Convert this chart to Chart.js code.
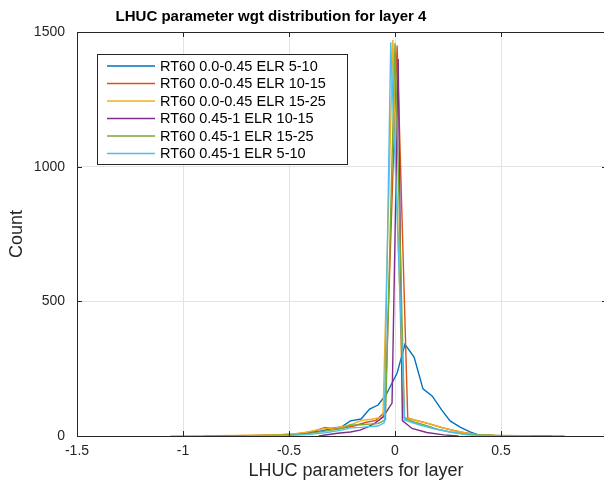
<!DOCTYPE html>
<html><head><meta charset="utf-8">
<script src="https://cdn.jsdelivr.net/npm/chart.js@4/dist/chart.umd.min.js"></script>
<style>
html,body{margin:0;padding:0;background:#fff;overflow:hidden;width:604px;height:480px}
#wrap{position:relative;width:610px;height:480px}
</style></head><body><div id="wrap"><canvas id="c" width="610" height="480"></canvas></div>
<script>
const titleText = 'LHUC parameter wgt distribution for layer 4';
const xLabel = 'LHUC parameters for layer';
const yLabel = 'Count';
const seriesNames = ['RT60 0.0-0.45 ELR 5-10','RT60 0.0-0.45 ELR 10-15','RT60 0.0-0.45 ELR 15-25','RT60 0.45-1 ELR 10-15','RT60 0.45-1 ELR 15-25','RT60 0.45-1 ELR 5-10'];
const seriesColors = ['#0072BD','#D95319','#EDB120','#7E2F8E','#77AC30','#4DBEEE'];
const xTicks = [-1.5,-1,-0.5,0,0.5,1];
const yTicks = [0,500,1000,1500];

const s1x = [-0.85,-0.75,-0.65,-0.55,-0.47,-0.42,-0.34,-0.30,-0.25,-0.21,-0.16,-0.12,-0.08,-0.04,0.01,0.047,0.09,0.132,0.175,0.22,0.26,0.307,0.354,0.39,0.45,0.52];
const s1y = [0,1,1,3,6,10,20,28,35,56,63,100,115,156,234,340,293,175,149,97,56,33,15,5,2,0];

const s2x = [-0.95,-0.85,-0.75,-0.65,-0.55,-0.47,-0.42,-0.375,-0.33,-0.29,-0.24,-0.19,-0.14,-0.09,-0.047,0.01,0.06,0.09,0.15,0.226,0.307,0.387,0.47,0.6,0.74];
const s2y = [0,1,1,2,4,8,12,20,32,27,30,38,50,58,89,1450,67,60,48,30,15,5,2,1,0];

const s3x = [-1.06,-0.95,-0.85,-0.75,-0.65,-0.55,-0.47,-0.42,-0.37,-0.33,-0.28,-0.24,-0.2,-0.156,-0.11,-0.08,-0.057,-0.01,0.038,0.08,0.15,0.226,0.307,0.387,0.47,0.55,0.62];
const s3y = [0,1,1,2,3,5,9,14,22,28,30,36,45,58,62,67,70,1470,70,62,48,30,15,5,2,1,0];

const s4x = [-0.36,-0.27,-0.21,-0.165,-0.13,-0.094,-0.057,-0.014,0.015,0.035,0.08,0.15,0.23,0.3];
const s4y = [0,10,15,22,33,48,70,122,1400,57,28,13,4,0];

const s5x = [-0.9,-0.8,-0.7,-0.6,-0.5,-0.42,-0.33,-0.25,-0.21,-0.16,-0.12,-0.08,-0.045,0.0,0.045,0.09,0.15,0.2,0.26,0.33,0.4,0.5,0.6,0.7,0.8];
const s5y = [0,1,1,2,4,8,18,28,41,42,44,46,60,1458,65,52,38,25,15,7,4,2,1,0,0];

const s6x = [-0.7,-0.6,-0.5,-0.42,-0.33,-0.25,-0.21,-0.16,-0.12,-0.08,-0.05,-0.02,0.045,0.08,0.118,0.18,0.26,0.34,0.45,0.55,0.64];
const s6y = [0,1,2,5,12,22,30,32,35,37,50,1462,59,50,41,28,15,4,1,0,0];

const seriesX = [s1x,s2x,s3x,s4x,s5x,s6x];
const seriesY = [s1y,s2y,s3y,s4y,s5y,s6y];

const FONT = '"Liberation Sans", Arial, Helvetica, sans-serif';
const AXC = '#262626';

const datasets = seriesNames.map((n,i)=>({
  label:n,
  data: seriesX[i].map((x,j)=>({x:x,y:seriesY[i][j]})),
  borderColor: seriesColors[i],
  backgroundColor: seriesColors[i],
  borderWidth: 1.4,
  pointRadius: 0,
  tension: 0,
  fill: false,
  order: seriesNames.length - i
}));

const decor = {
  id:'decor',
  afterDraw(chart){
    const ctx = chart.ctx, a = chart.chartArea;
    const xs = chart.scales.x, ys = chart.scales.y;
    ctx.save();
    ctx.strokeStyle = AXC; ctx.lineWidth = 1;
    ctx.strokeRect(Math.round(a.left)+0.5, Math.round(a.top)+0.5, Math.round(a.right-a.left), Math.round(a.bottom-a.top));
    ctx.beginPath();
    xTicks.forEach(v=>{
      const px = Math.round(xs.getPixelForValue(v))+0.5;
      ctx.moveTo(px, a.bottom); ctx.lineTo(px, a.bottom-5);
      ctx.moveTo(px, a.top); ctx.lineTo(px, a.top+5);
    });
    yTicks.forEach(v=>{
      const py = Math.round(ys.getPixelForValue(v))+0.5;
      ctx.moveTo(a.left, py); ctx.lineTo(a.left+5, py);
      ctx.moveTo(a.right, py); ctx.lineTo(a.right-5, py);
    });
    ctx.stroke();
    // title
    ctx.fillStyle = '#000';
    ctx.font = 'bold 15px ' + FONT;
    ctx.textAlign = 'center'; ctx.textBaseline = 'middle';
    ctx.fillText(titleText, 271, 17);
    // x label
    ctx.fillStyle = AXC;
    ctx.font = '18px ' + FONT;
    ctx.fillText(xLabel, 356, 471);
    // y label
    ctx.save();
    ctx.translate(17, 234); ctx.rotate(-Math.PI/2);
    ctx.fillText(yLabel, 0, 0);
    ctx.restore();
    // legend
    const lx=97, ly=54, lw=250, lh=110;
    ctx.fillStyle='#fff';
    ctx.fillRect(lx, ly, lw, lh);
    ctx.strokeStyle = AXC; ctx.lineWidth=1;
    ctx.strokeRect(lx+0.5, ly+0.5, lw, lh);
    ctx.font = '14.5px ' + FONT;
    ctx.textAlign='left'; ctx.textBaseline='middle';
    chart.data.datasets.forEach((d,i)=>{
      const y = 66 + i*17.5;
      ctx.strokeStyle = d.borderColor; ctx.lineWidth = 1.4;
      ctx.beginPath(); ctx.moveTo(107, y); ctx.lineTo(155, y); ctx.stroke();
      ctx.fillStyle = '#000';
      ctx.fillText(d.label, 160, y+0.5);
    });
    ctx.restore();
  }
};

new Chart(document.getElementById('c'), {
  type:'line',
  data:{datasets:datasets},
  options:{
    responsive:false,
    animation:false,
    layout:{padding:{top:32,right:3,left:0,bottom:0}},
    plugins:{legend:{display:false},title:{display:false},tooltip:{enabled:false}},
    scales:{
      x:{
        type:'linear', min:-1.5, max:1,
        afterBuildTicks(s){ s.ticks = xTicks.map(v=>({value:v})); },
        afterFit(s){ s.height = 44; s.paddingLeft = 0; s.paddingRight = 0; },
        ticks:{font:{family:FONT,size:14},color:AXC,padding:7,maxRotation:0,autoSkip:false,
          callback:(v)=>String(v)},
        grid:{color:'#e3e3e3',lineWidth:1,drawTicks:false},
        border:{display:false}
      },
      y:{
        type:'linear', min:0, max:1500,
        afterBuildTicks(s){ s.ticks = yTicks.map(v=>({value:v})); },
        afterFit(s){ s.width = 77; s.paddingTop = 0; s.paddingBottom = 0; },
        ticks:{font:{family:FONT,size:14},color:AXC,padding:12,
          callback:(v)=>String(v)},
        grid:{color:'#e3e3e3',lineWidth:1,drawTicks:false},
        border:{display:false}
      }
    }
  },
  plugins:[decor]
});
</script></body></html>
